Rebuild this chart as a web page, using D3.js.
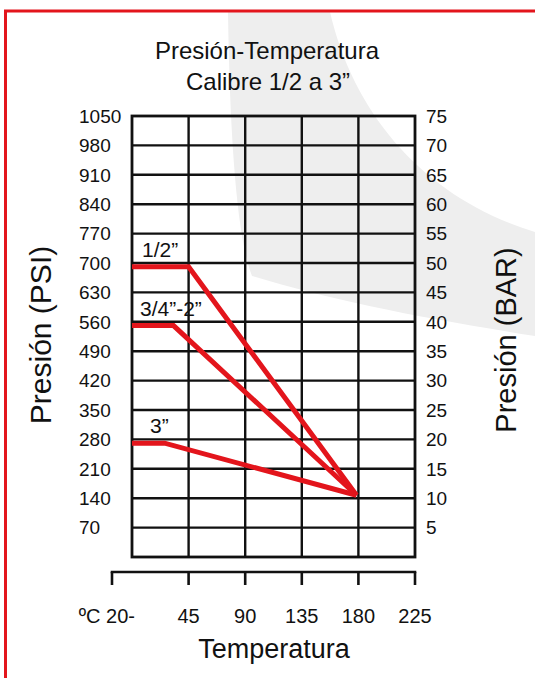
<!DOCTYPE html>
<html lang="es">
<head>
<meta charset="UTF-8">
<title>Presión-Temperatura</title>
<script src="https://d3js.org/d3.v7.min.js"></script>
<style>
  body { margin: 0; background: #fff; }
  text { font-family: "Liberation Sans", Arial, Helvetica, sans-serif; fill: #111; }
</style>
</head>
<body>
<div id="chart"></div>
<script>
// valores
const psiTicks = [1050, 980, 910, 840, 770, 700, 630, 560, 490, 420, 350, 280, 210, 140, 70];
const barTicks = [75, 70, 65, 60, 55, 50, 45, 40, 35, 30, 25, 20, 15, 10, 5];
const tempTicks = [45, 90, 135, 180, 225];
const seriesNames = ["1/2\u201d", "3/4\u201d-2\u201d", "3\u201d"];
const halfInch = [[0, 691], [45, 691], [178.5, 147]];
const threeQuarterToTwo = [[0, 551], [33, 551], [178.5, 147]];
const threeInch = [[0, 271], [26, 271], [178.5, 147]];

const width = 535, height = 678;
const grid = { left: 132, right: 415, top: 116, bottom: 557 };
const red = "#e3151c";

const svg = d3.select("#chart").append("svg")
    .attr("width", width)
    .attr("height", height);

// marca de agua (fondo)
svg.append("path")
    .attr("d", "M228,12 C230,150 238,240 252,276 C330,300 420,318 535,336 L535,232 C430,200 355,120 330,12 Z")
    .attr("fill", "#eeeeee");

// marco rojo
svg.append("line").attr("x1", 4).attr("x2", width).attr("y1", 11).attr("y2", 11)
    .attr("stroke", red).attr("stroke-width", 3);
svg.append("line").attr("x1", 5.5).attr("x2", 5.5).attr("y1", 10).attr("y2", height)
    .attr("stroke", red).attr("stroke-width", 3);

const x = d3.scaleLinear().domain([0, 225]).range([grid.left, grid.right]);
const y = d3.scaleLinear().domain([0, 1050]).range([grid.bottom, grid.top]);
const yBar = d3.scaleLinear().domain([0, 75]).range([grid.bottom, grid.top]);

// titulo
svg.append("text").attr("x", 267).attr("y", 59).attr("text-anchor", "middle")
    .attr("font-size", 24).text("Presión-Temperatura");
svg.append("text").attr("x", 268).attr("y", 90).attr("text-anchor", "middle")
    .attr("font-size", 24).text("Calibre 1/2 a 3\u201d");

// rejilla
const g = svg.append("g");
g.selectAll(".h").data(psiTicks.filter(d => d < 1050)).join("line")
    .attr("x1", grid.left).attr("x2", grid.right)
    .attr("y1", d => y(d)).attr("y2", d => y(d))
    .attr("stroke", "#111").attr("stroke-width", 2.4);
g.selectAll(".v").data(tempTicks.filter(d => d < 225)).join("line")
    .attr("x1", d => x(d)).attr("x2", d => x(d))
    .attr("y1", grid.top).attr("y2", grid.bottom)
    .attr("stroke", "#111").attr("stroke-width", 2.4);
g.append("rect")
    .attr("x", grid.left).attr("y", grid.top)
    .attr("width", grid.right - grid.left).attr("height", grid.bottom - grid.top)
    .attr("fill", "none").attr("stroke", "#111").attr("stroke-width", 2.8);

// etiquetas de los ejes verticales
svg.selectAll(".psi").data(psiTicks).join("text")
    .attr("x", 79).attr("y", d => y(d)).attr("dy", "0.36em")
    .attr("font-size", 19).text(d => d);
svg.selectAll(".bar").data(barTicks).join("text")
    .attr("x", 426).attr("y", d => yBar(d)).attr("dy", "0.36em")
    .attr("font-size", 19).text(d => d);

svg.append("text").attr("transform", "translate(51,335) rotate(-90)")
    .attr("text-anchor", "middle").attr("font-size", 30).text("Presión (PSI)");
svg.append("text").attr("transform", "translate(516,340) rotate(-90)")
    .attr("text-anchor", "middle").attr("font-size", 29).text("Presión (BAR)");

// eje de temperatura
const axisY = 572, axisStart = x(0) - 20;
svg.append("line").attr("x1", axisStart).attr("x2", x(225))
    .attr("y1", axisY).attr("y2", axisY)
    .attr("stroke", "#111").attr("stroke-width", 2.6).attr("stroke-linecap", "square");
svg.selectAll(".tick").data([axisStart].concat(tempTicks.map(d => x(d)))).join("line")
    .attr("x1", d => d).attr("x2", d => d)
    .attr("y1", axisY).attr("y2", axisY + 13)
    .attr("stroke", "#111").attr("stroke-width", 2.6);
svg.selectAll(".tlabel").data(tempTicks).join("text")
    .attr("x", d => x(d)).attr("y", 623).attr("text-anchor", "middle")
    .attr("font-size", 20).text(d => d);
svg.append("text").attr("x", x(0) + 3).attr("y", 623).attr("text-anchor", "end")
    .attr("font-size", 20).text("ºC 20-");
svg.append("text").attr("x", 274).attr("y", 658).attr("text-anchor", "middle")
    .attr("font-size", 27).text("Temperatura");

// curvas
const line = d3.line().x(d => x(d[0])).y(d => y(d[1]));
const series = [halfInch, threeQuarterToTwo, threeInch];
svg.selectAll(".serie").data(series).join("path")
    .attr("d", line)
    .attr("fill", "none").attr("stroke", red).attr("stroke-width", 5)
    .attr("stroke-linejoin", "miter");

const labelDx = [10, 8, 18];
svg.selectAll(".slabel").data(series).join("text")
    .attr("x", (d, i) => x(d[0][0]) + labelDx[i])
    .attr("y", d => y(d[0][1]) - 10)
    .attr("font-size", 21)
    .text((d, i) => seriesNames[i]);
</script>
</body>
</html>
